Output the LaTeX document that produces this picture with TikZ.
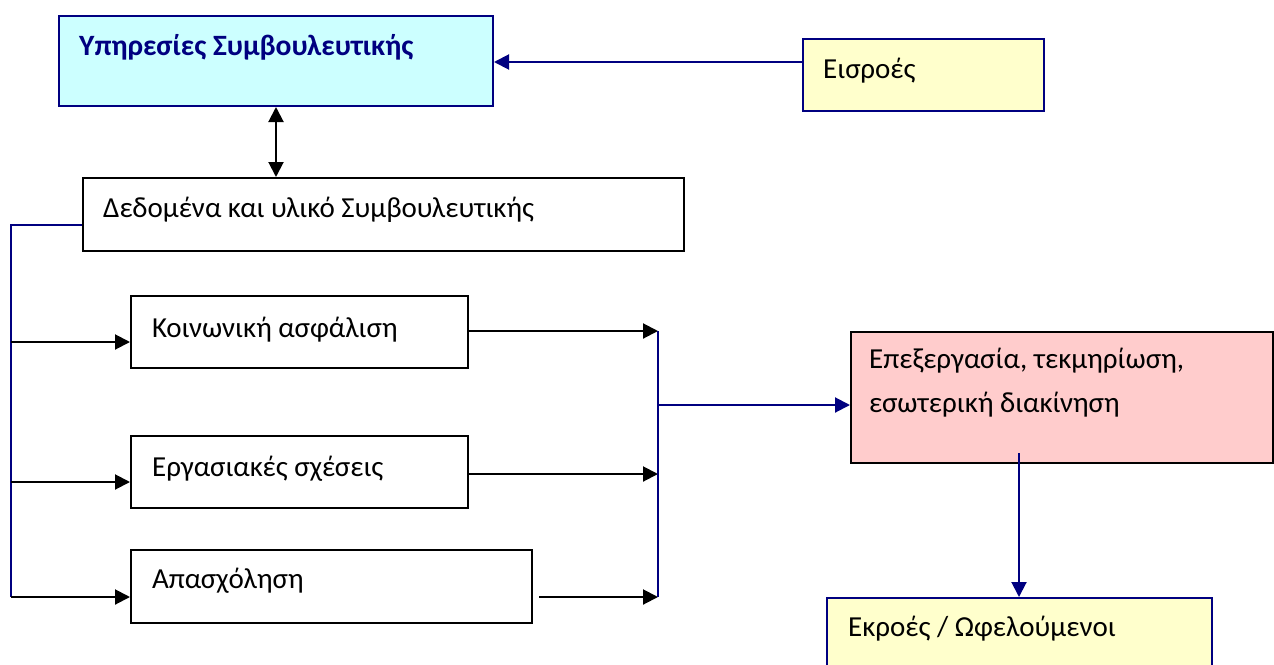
\documentclass[tikz,border=0pt]{standalone}
\usepackage{fontspec}
\setmainfont{Carlito}
\usetikzlibrary{arrows.meta}
\definecolor{navyb}{HTML}{000080}
\definecolor{cyanfill}{HTML}{CCFFFF}
\definecolor{yelfill}{HTML}{FFFFCC}
\definecolor{pinkfill}{HTML}{FFCCCC}
\tikzset{
  box/.style={rectangle, draw=black, fill=white, line width=2pt, anchor=north west, inner sep=0pt},
  navybox/.style={box, draw=navyb},
  txt/.style={anchor=base west, inner sep=0pt, font=\fontsize{29}{35}\selectfont},
  blk/.style={draw=black, line width=2pt, -{Triangle[length=15pt,width=15pt]}},
  blkdbl/.style={draw=black, line width=2pt, {Triangle[length=15pt,width=15pt]}-{Triangle[length=15pt,width=15pt]}},
  nav/.style={draw=navyb, line width=2pt, -{Triangle[length=15pt,width=15pt]}},
  navline/.style={draw=navyb, line width=2pt}
}
\begin{document}
\begin{tikzpicture}[x=1pt,y=-1pt]
\useasboundingbox (0,0) rectangle (1274,664);
\clip (0,0) rectangle (1274,664);
\fill[white] (0,0) rectangle (1274,664);
% boxes
\node[navybox, fill=cyanfill, minimum width=434pt, minimum height=90pt] (b1) at (58,15) {};
\node[navybox, fill=yelfill, minimum width=241pt, minimum height=72pt] (in) at (802,38) {};
\node[box, minimum width=601pt, minimum height=73pt] (data) at (82,177) {};
\node[box, minimum width=337pt, minimum height=72pt] (k) at (130,295) {};
\node[box, minimum width=337pt, minimum height=72pt] (e) at (130,435) {};
\node[box, minimum width=401pt, minimum height=73pt] (a) at (130,549) {};
\node[box, fill=pinkfill, minimum width=422pt, minimum height=131pt] (p) at (850,331) {};
\node[navybox, fill=yelfill, minimum width=385pt, minimum height=100pt] (out) at (826,597) {};
% texts
\node[txt, font=\fontsize{29.5}{36}\selectfont\bfseries, text=navyb] (t1) at (79,55) {Υπηρεσίες Συμβουλευτικής};
\node[txt] (tin) at (823,78) {Εισροές};
\node[txt] (tdata) at (103,217) {Δεδομένα και υλικό Συμβουλευτικής};
\node[txt] (tk) at (152,337) {Κοινωνική ασφάλιση};
\node[txt] (te) at (152,476) {Εργασιακές σχέσεις};
\node[txt] (ta) at (152,588) {Απασχόληση};
\node[txt] (tp1) at (869,368) {Επεξεργασία, τεκμηρίωση,};
\node[txt] (tp2) at (869,412) {εσωτερική διακίνηση};
\node[txt] (tout) at (848,636) {Εκροές / Ωφελούμενοι};
% connector points
\coordinate (inE) at (802,62);
\coordinate (dW) at (82,225);
\coordinate (busT) at (11,225);
\coordinate (busB) at (11,597);
\coordinate (kL) at (11,342);
\coordinate (eL) at (11,482);
\coordinate (aL) at (11,597);
\coordinate (rT) at (658,331);
\coordinate (rM) at (658,405);
\coordinate (rB) at (658,597);
\coordinate (eR) at (467,474);
\coordinate (aR) at (539,597);
\coordinate (pD) at (1019,453);
% connectors
\draw[nav] (inE) -- (inE -| b1.east);
\draw[blkdbl] (b1.south) -- (b1.south |- data.north);
\draw[navline] (dW) -- (busT) -- (busB);
\draw[blk] (kL) -- (kL -| k.west);
\draw[blk] (eL) -- (eL -| e.west);
\draw[blk] (aL) -- (aL -| a.west);
\draw[blk] (k.east |- rT) -- (rT);
\draw[blk] (eR) -- (eR -| rT);
\draw[blk] (aR) -- (rB);
\draw[navline] (rT) -- (rB);
\draw[nav] (rM) -- (rM -| p.west);
\draw[nav] (pD) -- (pD |- out.north);
\end{tikzpicture}
\end{document}
